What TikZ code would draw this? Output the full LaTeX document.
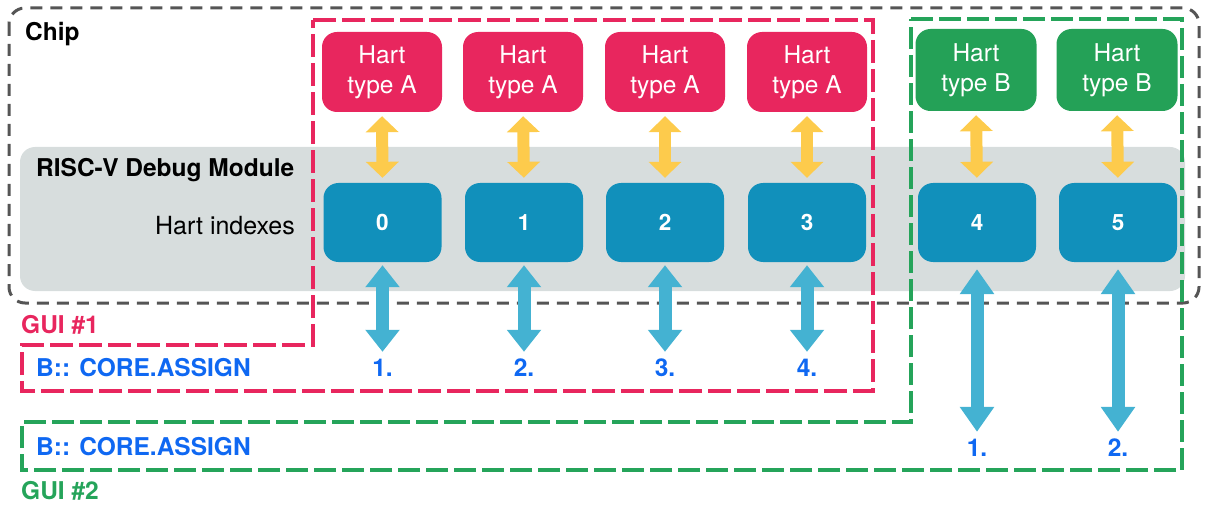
\documentclass[tikz,border=0pt]{standalone}
\usepackage{fontspec}
\setmainfont{TeX Gyre Heros}
\usetikzlibrary{arrows.meta}
\definecolor{hartA}{HTML}{E8265E}
\definecolor{hartB}{HTML}{24A157}
\definecolor{idxblue}{HTML}{1190BB}
\definecolor{modgray}{HTML}{D7DDDD}
\definecolor{arrY}{HTML}{FDCB4C}
\definecolor{arrB}{HTML}{44B2D2}
\definecolor{txtblue}{HTML}{0F68F2}
\definecolor{chipgray}{HTML}{555555}
\definecolor{guiRed}{HTML}{E8265E}
\definecolor{guiGreen}{HTML}{25A45A}
\tikzset{
  hartbox/.style={rounded corners=15pt, minimum width=120pt, minimum height=80pt, inner sep=0pt,
     text=white, align=center, font=\fontsize{24.5}{30}\selectfont},
  idxbox/.style={rounded corners=15pt, fill=idxblue, minimum width=118pt, minimum height=79pt, inner sep=0pt,
     text=white, font=\fontsize{22.5}{26}\selectfont\bfseries},
  lbl/.style={inner sep=0pt, font=\fontsize{24.5}{28}\selectfont},
  boldlbl/.style={lbl, font=\fontsize{24.5}{28}\selectfont\bfseries},
  numlbl/.style={inner sep=0pt, text height=17pt, text depth=0pt, anchor=base, text=txtblue,
     font=\fontsize{24.5}{28}\selectfont\bfseries},
  yarrow/.style={draw=arrY, line width=12pt, shorten <=4pt, shorten >=5pt,
     {Triangle[width=32pt,length=16pt]}-{Triangle[width=32pt,length=16pt]}},
  barrow/.style={draw=arrB, line width=13pt,
     {Triangle[width=33pt,length=22pt]}-{Triangle[width=33pt,length=22pt]}},
  longbarrow/.style={barrow, {Triangle[width=33pt,length=25pt]}-{Triangle[width=33pt,length=25pt]}},
  chipdash/.style={draw=chipgray, line width=3pt, dash pattern=on 12pt off 8pt},
  reddash/.style={draw=guiRed, line width=3.5pt, dash pattern=on 23pt off 6pt},
  greendash/.style={draw=guiGreen, line width=3.5pt, dash pattern=on 22pt off 6pt},
}
\begin{document}
\begin{tikzpicture}[x=1pt,y=-1pt]
\useasboundingbox (0,0) rectangle (1207,505);
% module background
\fill[modgray, rounded corners=15pt] (20,147) rectangle (1185,291);
% chip border
\draw[chipdash, rounded corners=16pt] (9,8) rectangle (1199,303);
% GUI borders
\draw[reddash] (313,20) -- (873,20) -- (873,391) -- (22,391) -- (22,345) -- (313,345) -- cycle;
\draw[greendash] (911,19) -- (1182,19) -- (1182,470) -- (22,470) -- (22,422) -- (911,422) -- cycle;
% texts
\node[boldlbl, anchor=base west] (chip) at (25,41) {Chip};
\node[boldlbl, anchor=base west] (dm) at (36,177) {RISC-V Debug Module};
\node[lbl, anchor=base east, font=\fontsize{25}{28}\selectfont] (hi) at (295,234) {Hart indexes};
\node[boldlbl, anchor=base west, text=guiRed] (g1) at (21,333) {GUI \#1};
\node[boldlbl, anchor=base west, text=guiGreen] (g2) at (21,499) {GUI \#2};
\node[boldlbl, anchor=base west, text=txtblue] (ca1) at (36,376) {B:: CORE.ASSIGN};
\node[boldlbl, anchor=base west, text=txtblue] (ca2) at (36,455) {B:: CORE.ASSIGN};
% harts
\node[hartbox, fill=hartA] (h0) at (382,72) {Hart\\type A};
\node[hartbox, fill=hartA] (h1) at (523,72) {Hart\\type A};
\node[hartbox, fill=hartA] (h2) at (665,72) {Hart\\type A};
\node[hartbox, fill=hartA] (h3) at (807,72) {Hart\\type A};
\node[hartbox, fill=hartB, minimum width=121pt, minimum height=82pt] (h4) at (976,70) {Hart\\type B};
\node[hartbox, fill=hartB, minimum width=121pt, minimum height=82pt] (h5) at (1117,70) {Hart\\type B};
% indexes
\node[idxbox] (i0) at (382.5,222.5) {0};
\node[idxbox] (i1) at (524,222.5) {1};
\node[idxbox] (i2) at (665,222.5) {2};
\node[idxbox] (i3) at (807,222.5) {3};
\node[idxbox] (i4) at (977,222.5) {4};
\node[idxbox] (i5) at (1118,222.5) {5};
% labels
\node[numlbl] (a0) at (382.5,376) {1.};
\node[numlbl] (a1) at (524,376) {2.};
\node[numlbl] (a2) at (665,376) {3.};
\node[numlbl] (a3) at (807,376) {4.};
\node[numlbl] (b0) at (977,456) {1.};
\node[numlbl] (b1) at (1118,456) {2.};
% yellow arrows
\foreach \k in {0,...,5} {
  \draw[yarrow] (h\k.south) -- (i\k.north);
}
% blue arrows
\foreach \k in {0,...,3} {
  \draw[barrow, shorten <=3pt, shorten >=7pt] (i\k.south) -- (a\k.north);
}
\draw[longbarrow, shorten <=7pt, shorten >=7pt] (i4.south) -- (b0.north);
\draw[longbarrow, shorten <=7pt, shorten >=7pt] (i5.south) -- (b1.north);
\end{tikzpicture}
\end{document}
